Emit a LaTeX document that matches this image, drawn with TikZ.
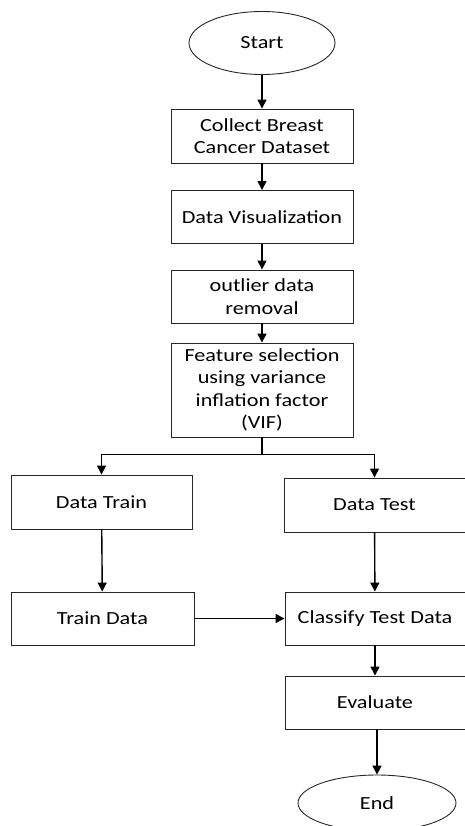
\documentclass[tikz,border=0pt]{standalone}
\usepackage{fontspec}
\setmainfont[FakeStretch=1.2]{Carlito}
\usetikzlibrary{shapes.geometric,arrows.meta}
\begin{document}
\begin{tikzpicture}[x=1pt,y=-1pt,
  every node/.style={font=\fontsize{18.5}{22.3}\selectfont, align=center, inner sep=0pt},
  procbox/.style={draw=black!85, line width=0.9pt, rectangle, minimum width=#1, minimum height=53pt},
  procbox/.default=182pt,
  termin/.style={draw=black!85, line width=0.9pt, ellipse},
  flow/.style={draw=black, line width=1.4pt, -{Triangle[length=9pt,width=9pt]}}]
\useasboundingbox (0,0) rectangle (465,826);
\node[termin, minimum width=146pt, minimum height=63pt] (start) at (262,43) {Start};
\node[procbox, minimum height=54pt] (collect) at (262,136) {Collect Breast\\Cancer Dataset};
\node[procbox] (vis) at (262,217) {Data Visualization};
\node[procbox] (outlier) at (262,296.5) {outlier data\\removal};
\node[procbox, minimum height=94pt] (feature) at (262,390) {Feature selection\\using variance\\inflation factor\\(VIF)};
\node[procbox=181pt, minimum height=54pt] (dtrain) at (101.5,502) {Data Train};
\node[procbox=181pt, minimum height=54pt] (dtest) at (374.5,505) {Data Test};
\node[procbox=183pt] (traind) at (102.5,618.5) {Train Data};
\node[procbox=180pt] (classify) at (375,618.5) {Classify Test Data};
\node[procbox=180pt] (evaluate) at (375,702.5) {Evaluate};
\node[termin, minimum width=158pt, minimum height=56pt] (end) at (377,803) {End};
\coordinate (split) at (262,454.5);
\draw[flow] (start) -- (collect);
\draw[flow] (collect) -- (vis);
\draw[flow] (vis) -- (outlier);
\draw[flow] (outlier) -- (feature);
\draw[line width=1.4pt] (feature.south) -- (split);
\draw[flow] (split) -| (dtrain.north);
\draw[flow] (split) -| (dtest.north);
\draw[flow] (dtrain) -- (traind);
\draw[flow] (dtest) -- (classify);
\draw[flow] (traind) -- (classify);
\draw[flow] (classify) -- (evaluate);
\draw[flow] (evaluate.south -| end.north) -- (end.north);
\end{tikzpicture}
\end{document}
